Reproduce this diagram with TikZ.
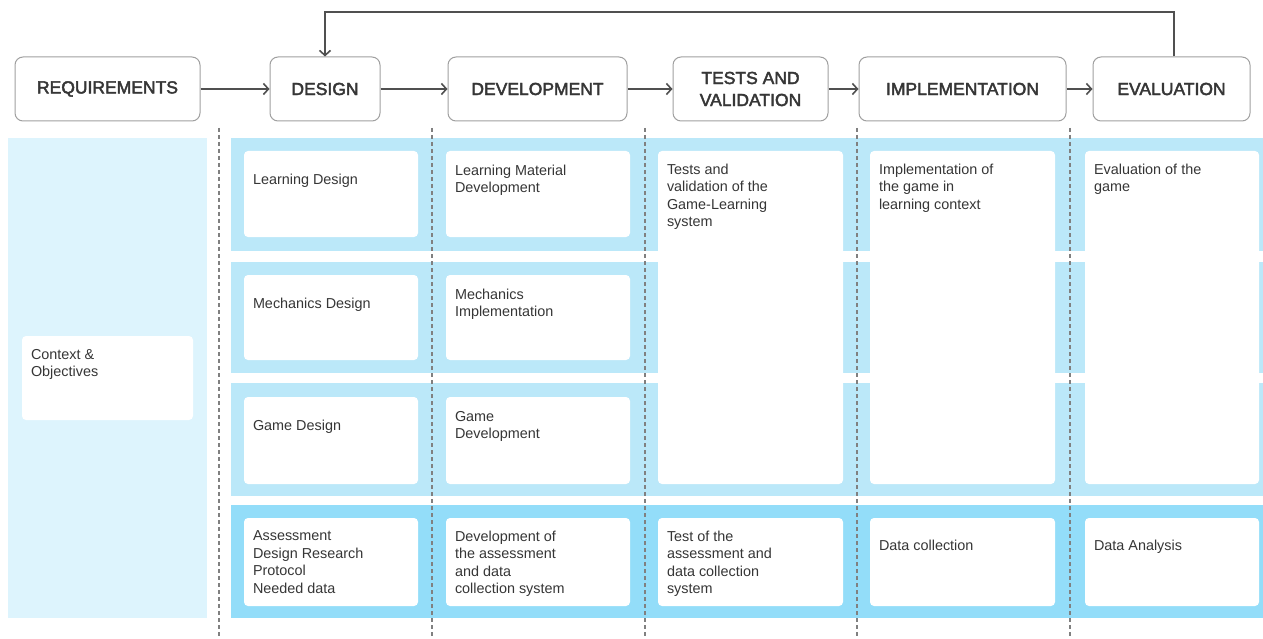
\documentclass[tikz,border=0pt]{standalone}
\usepackage{fontspec}
\setmainfont{Liberation Sans}
\newfontfamily\hdrfont[FakeBold=2.5]{Liberation Sans}
\usetikzlibrary{arrows.meta,calc}
\definecolor{txt}{HTML}{363636}
\definecolor{pale}{HTML}{DDF4FD}
\definecolor{band}{HTML}{BBE8F9}
\definecolor{bandd}{HTML}{93DDF9}
\definecolor{edge}{HTML}{A0A0A0}
\definecolor{arrc}{HTML}{505050}
\definecolor{dashc}{HTML}{808080}
\tikzset{
  hdr/.style={draw=edge, line width=1pt, fill=white, rounded corners=8pt, minimum height=64pt,
    align=center, text=txt, font=\hdrfont\fontsize{17.5}{22}\selectfont, inner sep=0pt},
  wb/.style={fill=white, rounded corners=4pt, inner sep=0pt, draw=none},
  lbl/.style={anchor=north west, inner sep=0pt, align=left, text=txt,
    font=\fontsize{14.4}{17.5}\selectfont},
  arr/.style={draw=arrc, line width=1.6pt, -{Straight Barb[length=5pt,width=11pt,line width=1.6pt]}},
  dl/.style={draw=dashc, line width=1.2pt, dash pattern=on 4pt off 3pt}
}
% name, x1, y1, x2, y2, text offset, text
\newcommand\wbox[7]{%
  \node[wb, minimum width={#4pt-#2pt}, minimum height={#5pt-#3pt}] (#1) at ({(#2+#4)/2},{(#3+#5)/2}) {};
  \node[lbl] (#1t) at ($(#1.north west)+(9,#6)$) {#7};
}
\begin{document}
\begin{tikzpicture}[x=1pt,y=-1pt]
\useasboundingbox (0,0) rectangle (1263,639);
\fill[white] (0,0) rectangle (1263,639);
% panels and bands
\fill[pale] (8,138) rectangle (207,618);
\fill[band] (231,138) rectangle (1263,251);
\fill[band] (231,262) rectangle (1263,373);
\fill[band] (231,383) rectangle (1263,496);
\fill[bandd] (231,505) rectangle (1263,618);
% header boxes
\node[hdr, minimum width=185pt] (req) at (107.5,89) {REQUIREMENTS};
\node[hdr, minimum width=110pt] (des) at (325,89) {DESIGN};
\node[hdr, minimum width=179pt] (dev) at (537.5,89) {DEVELOPMENT};
\node[hdr, minimum width=155pt] (tst) at (750.5,89) {TESTS AND\\VALIDATION};
\node[hdr, minimum width=207pt] (imp) at (962.5,89) {IMPLEMENTATION};
\node[hdr, minimum width=157pt] (eva) at (1171.5,89) {EVALUATION};
% arrows
\draw[arr] (req) -- (des);
\draw[arr] (des) -- (dev);
\draw[arr] (dev) -- (tst);
\draw[arr] (tst) -- (imp);
\draw[arr] (imp) -- (eva);
\coordinate (fb) at (0,12);
\coordinate (evtop) at ($(eva.north)+(2.5,0)$);
\draw[arr] (evtop) -- (evtop |- fb) -| (des.north);
% white boxes
\wbox{ctx}{22}{336}{193}{420}{13}{Context \&\\Objectives}
\wbox{ld}{244}{151}{418}{237}{23}{Learning Design}
\wbox{md}{244}{275}{418}{360}{23}{Mechanics Design}
\wbox{gd}{244}{397}{418}{484}{23}{Game Design}
\wbox{ad}{244}{518}{418}{606}{13}{Assessment\\Design Research\\Protocol\\Needed data}
\wbox{lm}{446}{151}{630}{237}{14}{Learning Material\\Development}
\wbox{mi}{446}{275}{630}{360}{14}{Mechanics\\Implementation}
\wbox{gdv}{446}{397}{630}{484}{14}{Game\\Development}
\wbox{dac}{446}{518}{630}{606}{13}{Development of\\the assessment\\and data\\collection system}
\wbox{tv}{658}{151}{843}{484}{13}{Tests and\\validation of the\\Game-Learning\\system}
\wbox{ta}{658}{518}{843}{606}{13}{Test of the\\assessment and\\data collection\\system}
\wbox{ig}{870}{151}{1055}{484}{13}{Implementation of\\the game in\\learning context}
\wbox{dc}{870}{518}{1055}{606}{22}{Data collection}
\wbox{eg}{1085}{151}{1259}{484}{13}{Evaluation of the\\game}
\wbox{da}{1085}{518}{1259}{606}{22}{Data Analysis}
% dashed separators
\foreach \x in {219,432,645,857,1070} \draw[dl] (\x,128) -- (\x,639);
\end{tikzpicture}
\end{document}
